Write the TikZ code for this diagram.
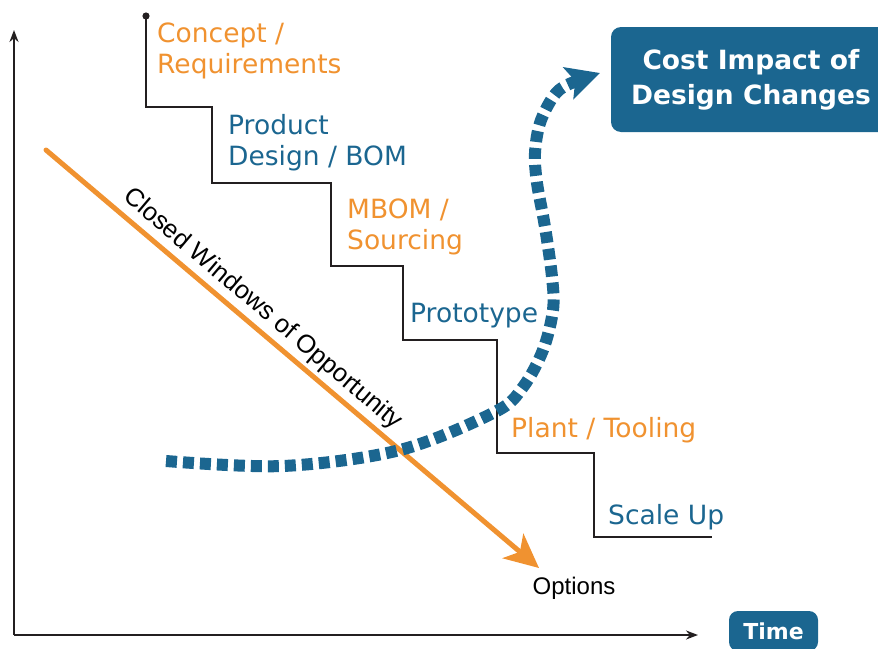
\documentclass[tikz,border=0pt]{standalone}
\usepackage{fontspec}
\setmainfont{DejaVu Sans}
\newfontfamily\arialfont{Liberation Sans}
\usetikzlibrary{arrows.meta}
\definecolor{cblue}{RGB}{27,102,144}
\definecolor{corange}{RGB}{240,146,48}
\definecolor{cline}{RGB}{35,31,32}
\tikzset{
  stagelabel/.style={anchor=base west, align=left, inner sep=0pt, font=\fontsize{26.5}{31}\selectfont},
  bluelabel/.style={stagelabel, text=cblue},
  orangelabel/.style={stagelabel, text=corange},
  stairline/.style={draw=cline, line width=2pt},
  axisline/.style={draw=cline, line width=2pt, -{Stealth[length=12pt,width=9pt]}},
  bluebox/.style={fill=cblue, text=white, rounded corners=10pt, align=center, font=\bfseries\fontsize{26.5}{35}\selectfont},
  costcurve/.style={draw=cblue, line width=12pt, dash pattern=on 11pt off 6pt, -{Stealth[length=33pt,width=33pt,inset=7pt]}},
  windowarrow/.style={draw=corange, line width=5pt, line cap=round, -{Stealth[length=34pt,width=32pt,inset=9pt]}}
}
\begin{document}
\begin{tikzpicture}[x=1pt,y=-1pt]
\useasboundingbox (0,0) rectangle (878,648);
\clip (0,0) rectangle (878,648);
% axes
\coordinate (origin) at (14,635);
\coordinate (ytop) at (14,30);
\coordinate (xend) at (698,635);
\draw[axisline] (origin) -- (ytop);
\draw[axisline] (origin) -- (xend);
% staircase
\coordinate (s0) at (146,16);
\fill[cline] (s0) circle (3.6pt);
\draw[stairline] (s0) |- (212,107) |- (331,183) |- (403,266) |- (497,340) |- (594,453) |- (712,537);
% stage labels (base = baseline of last line)
\node[orangelabel] (concept) at (157,73) {Concept /\\Requirements};
\node[bluelabel] (product) at (228,165) {Product\\Design / BOM};
\node[orangelabel] (mbom) at (347,249) {MBOM /\\Sourcing};
\node[bluelabel] (proto) at (410,322) {Prototype};
\node[orangelabel] (plant) at (511,437) {Plant / Tooling};
\node[bluelabel] (scale) at (608,524) {Scale Up};
% boxes
\node[bluebox, minimum width=280pt, minimum height=105pt] (cost) at (751,79.5) {Cost Impact of\\Design Changes};
\node[bluebox, font=\bfseries\fontsize{22}{26}\selectfont, minimum width=89pt, minimum height=40pt, rounded corners=9pt] (time) at (773.5,631) {Time};
% options
\node[font=\arialfont\fontsize{24}{28}\selectfont, text=black] (options) at (574,588) {Options};
% orange arrow
\coordinate (wstart) at (46,150);
\coordinate (wend) at (539,568);
\draw[windowarrow] (wstart) -- node[pos=0.415, sloped, above, inner sep=4pt, font=\arialfont\fontsize{25.5}{30}\selectfont, text=black] (cwo) {Closed Windows of Opportunity} (wend);
% dashed cost curve
\draw[costcurve] plot[smooth, tension=0.55] coordinates {(166,461) (283,466) (400,450) (495,412) (523,387) (543,350) (553,310) (552,277) (545,227) (537,183) (535,153) (540,123) (553,97) (567,85) (600,73)};
\end{tikzpicture}
\end{document}
